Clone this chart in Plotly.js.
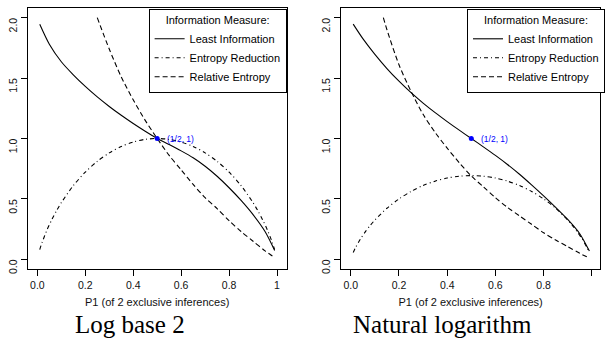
<!DOCTYPE html>
<html>
<head>
<meta charset="utf-8">
<script src="https://cdn.plot.ly/plotly-3.0.1.min.js"></script>
<style>
html,body{margin:0;padding:0;background:#fff;}
#chart{width:605px;height:341px;}
</style>
</head>
<body>
<div id="chart"></div>
<script>
// ---- data ----
const P_LI = [0.01,0.05,0.1,0.15,0.2,0.25,0.3,0.35,0.4,0.45,0.5,0.55,0.6,0.65,0.7,0.75,0.8,0.85,0.9,0.95,0.99];
const LI_LOG2 = [1.945,1.78,1.635,1.527,1.431,1.344,1.265,1.192,1.124,1.06,1.0,0.95,0.8975,0.84,0.77,0.6875,0.5925,0.4875,0.37,0.23,0.074];
const LI_LN   = [1.9465,1.8265,1.6965,1.579,1.474,1.379,1.293,1.214,1.14,1.069,1.0,0.931,0.86,0.785,0.704,0.616,0.525,0.43,0.33,0.212,0.068];

const P_ER = [0.01,0.02,0.04,0.06,0.08,0.1,0.15,0.2,0.25,0.3,0.35,0.4,0.45,0.5,0.55,0.6,0.65,0.7,0.75,0.8,0.85,0.9,0.92,0.94,0.96,0.98,0.99];
const ER_LOG2 = [0.081,0.141,0.242,0.327,0.402,0.469,0.610,0.722,0.811,0.881,0.934,0.971,0.993,1.0,0.993,0.971,0.934,0.881,0.811,0.722,0.610,0.469,0.402,0.327,0.242,0.141,0.081];
const ER_LN   = [0.056,0.098,0.168,0.227,0.279,0.325,0.423,0.500,0.562,0.611,0.647,0.673,0.688,0.693,0.688,0.673,0.647,0.611,0.562,0.500,0.423,0.325,0.279,0.227,0.168,0.098,0.056];

const P_RE_LOG2 = [0.25,0.3,0.35,0.4,0.45,0.5,0.55,0.6,0.65,0.7,0.75,0.8,0.85,0.9,0.95,0.99];
const RE_LOG2   = [2.0,1.74,1.51,1.32,1.15,1.0,0.86,0.74,0.62,0.51,0.42,0.32,0.23,0.15,0.07,0.015];
const P_RE_LN = [0.135,0.15,0.2,0.25,0.3,0.35,0.4,0.45,0.5,0.55,0.6,0.65,0.7,0.75,0.8,0.85,0.9,0.95,0.99];
const RE_LN   = [2.0,1.90,1.61,1.39,1.20,1.05,0.92,0.80,0.69,0.60,0.51,0.43,0.36,0.29,0.22,0.16,0.105,0.05,0.01];

const POINT_X = [0.5];
const POINT_Y = [1];
const POINT_LABEL = '(1/2, 1)';

const SERIES_NAMES = ['Least Information','Entropy Reduction','Relative Entropy'];
const LEGEND_TITLE = 'Information Measure:';
const X_TITLE = 'P1 (of 2 exclusive inferences)';
const CAPTIONS = ['Log base 2','Natural logarithm'];
const X_TICKS = [0,0.2,0.4,0.6,0.8,1];
const X_TICKTEXT_LEFT = ['0.0','0.2','0.4','0.6','0.8','1'];
const X_TICKTEXT_RIGHT = ['0.0','0.2','0.4','0.6','0.8',''];
const Y_TICKS = [0,0.5,1,1.5,2];
const Y_TICKTEXT = ['0.0','0.5','1.0','1.5','2.0'];

// ---- styles ----
const SANS = 'Liberation Sans, Arial, Helvetica, sans-serif';
const SERIF = 'Liberation Serif, Times New Roman, serif';
const W = 605, H = 341;
const DASH_DOT = '4px,3px,1px,3px';
const DASHED = '5px,3px';

function panel(xa, ya, leg, li, er, pre, re) {
  return [
    {x: P_LI, y: li, xaxis: xa, yaxis: ya, legend: leg, name: SERIES_NAMES[0], mode: 'lines',
     line: {color: 'black', width: 1.1, shape: 'spline', smoothing: 0.8}},
    {x: P_ER, y: er, xaxis: xa, yaxis: ya, legend: leg, name: SERIES_NAMES[1], mode: 'lines',
     line: {color: 'black', width: 1.1, dash: DASH_DOT, shape: 'spline', smoothing: 0.8}},
    {x: pre, y: re, xaxis: xa, yaxis: ya, legend: leg, name: SERIES_NAMES[2], mode: 'lines',
     line: {color: 'black', width: 1.1, dash: DASHED, shape: 'spline', smoothing: 0.8}},
    {x: POINT_X, y: POINT_Y, xaxis: xa, yaxis: ya, mode: 'markers',
     marker: {color: 'blue', size: 5}, showlegend: false, hoverinfo: 'skip'}
  ];
}

const data = [].concat(
  panel('x', 'y', 'legend', LI_LOG2, ER_LOG2, P_RE_LOG2, RE_LOG2),
  panel('x2', 'y2', 'legend2', LI_LN, ER_LN, P_RE_LN, RE_LN)
);

const yDom = [1 - 269 / H, 1 - 8 / H];
function xAxis(dom, range, ticktext, anchor) {
  return {
    domain: dom, range: range, anchor: anchor,
    showline: true, mirror: true, linecolor: 'black', linewidth: 1,
    ticks: 'outside', ticklen: 6, tickcolor: 'black', tickwidth: 1,
    tickvals: X_TICKS, ticktext: ticktext,
    tickfont: {family: SANS, size: 10.5, color: '#111'},
    showgrid: false, zeroline: false,
    title: {text: X_TITLE, font: {family: SANS, size: 11, color: '#111'}, standoff: 8}
  };
}
function yAxis(anchor) {
  return {
    domain: yDom, range: [-0.08, 2.08], anchor: anchor,
    showline: true, mirror: true, linecolor: 'black', linewidth: 1,
    ticks: 'outside', ticklen: 6, tickcolor: 'black', tickwidth: 1,
    tickvals: Y_TICKS, ticktext: Y_TICKTEXT, tickangle: -90,
    ticklabelshift: 9,
    tickfont: {family: SANS, size: 10.5, color: '#111'},
    showgrid: false, zeroline: false
  };
}
function legendCfg(x, xanchor) {
  return {
    x: x, xanchor: xanchor, y: 1 - 9 / H, yanchor: 'top',
    bgcolor: 'white', bordercolor: 'black', borderwidth: 1,
    font: {family: SANS, size: 11, color: 'black'},
    title: {text: LEGEND_TITLE, side: 'top center', font: {family: SANS, size: 11, color: 'black'}},
    tracegroupgap: 0
  };
}
function pointLabel(xr, yr) {
  return {text: POINT_LABEL, xref: xr, yref: yr, x: POINT_X[0], y: POINT_Y[0],
    xanchor: 'left', yanchor: 'middle', xshift: 8, showarrow: false,
    font: {family: SANS, size: 8.5, color: 'blue'}};
}

const layout = {
  width: W, height: H, autosize: false,
  margin: {l: 0, r: 0, t: 0, b: 0, pad: 0},
  paper_bgcolor: 'white', plot_bgcolor: 'white',
  xaxis: xAxis([28 / W, 289 / W], [-0.04, 1.04], X_TICKTEXT_LEFT, 'y'),
  yaxis: yAxis('x'),
  xaxis2: xAxis([344 / W, 1], [-0.04, 1.034], X_TICKTEXT_RIGHT, 'y2'),
  yaxis2: yAxis('x2'),
  legend: legendCfg(289 / W, 'right'),
  legend2: legendCfg(471 / W, 'left'),
  annotations: [
    pointLabel('x', 'y'),
    pointLabel('x2', 'y2'),
    {text: CAPTIONS[0], xref: 'paper', yref: 'paper', x: 131 / W, y: 1 - 324 / H,
     xanchor: 'center', yanchor: 'middle', showarrow: false,
     font: {family: SERIF, size: 25, color: 'black'}},
    {text: CAPTIONS[1], xref: 'paper', yref: 'paper', x: 446 / W, y: 1 - 324 / H,
     xanchor: 'center', yanchor: 'middle', showarrow: false,
     font: {family: SERIF, size: 25, color: 'black'}}
  ],
  showlegend: true
};

Plotly.newPlot('chart', data, layout, {staticPlot: true, displayModeBar: false});
</script>
</body>
</html>
